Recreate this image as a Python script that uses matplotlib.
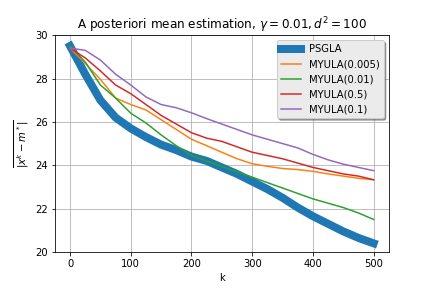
import matplotlib
matplotlib.use('Agg')
import matplotlib.pyplot as plt

k = [0, 25, 50, 75, 100, 125, 150, 175, 200, 225, 250,
     275, 300, 325, 350, 375, 400, 425, 450, 475, 500]

psgla = [29.5, 28.2, 27.0, 26.2, 25.7, 25.3, 24.95, 24.7, 24.4, 24.2, 23.9,
         23.6, 23.25, 22.9, 22.5, 22.05, 21.65, 21.3, 20.95, 20.65, 20.4]
myula_0005 = [29.4, 28.7, 27.96, 27.1, 26.8, 26.55, 26.1, 25.65, 25.2, 24.9, 24.6,
              24.3, 24.07, 23.95, 23.85, 23.8, 23.72, 23.6, 23.5, 23.4, 23.33]
myula_001 = [29.5, 28.76, 27.7, 27.1, 26.4, 25.95, 25.4, 24.9, 24.45, 24.2, 23.95,
             23.7, 23.45, 23.2, 22.95, 22.7, 22.45, 22.25, 22.05, 21.8, 21.5]
myula_05 = [29.4, 28.95, 28.35, 27.7, 27.3, 26.8, 26.3, 25.9, 25.5, 25.25, 25.1,
            24.85, 24.6, 24.45, 24.3, 24.1, 23.9, 23.75, 23.6, 23.5, 23.33]
myula_01 = [29.4, 29.3, 28.85, 28.2, 27.7, 27.15, 26.8, 26.65, 26.42, 26.15, 25.9,
            25.65, 25.4, 25.2, 25.0, 24.8, 24.5, 24.25, 24.05, 23.9, 23.75]


def main():
    fig, ax = plt.subplots(figsize=(6, 4), dpi=72)
    fig.subplots_adjust(left=0.127, right=0.9, top=0.878, bottom=0.125)
    ax.plot(k, psgla, linewidth=8, label='PSGLA')
    ax.plot(k, myula_0005, label='MYULA(0.005)')
    ax.plot(k, myula_001, label='MYULA(0.01)')
    ax.plot(k, myula_05, label='MYULA(0.5)')
    ax.plot(k, myula_01, label='MYULA(0.1)')
    ax.set_ylim(20, 30)
    ax.grid(True)
    ax.set_title(r'A posteriori mean estimation, $\gamma = 0.01, d^2 = 100$')
    ax.set_xlabel('k')
    ax.set_ylabel(r'$\overline{|x^k - m^*|}$')
    leg = ax.legend(loc='upper right', shadow=True, facecolor='#ebebeb')
    fig.savefig('out.png')


if __name__ == '__main__':
    main()
